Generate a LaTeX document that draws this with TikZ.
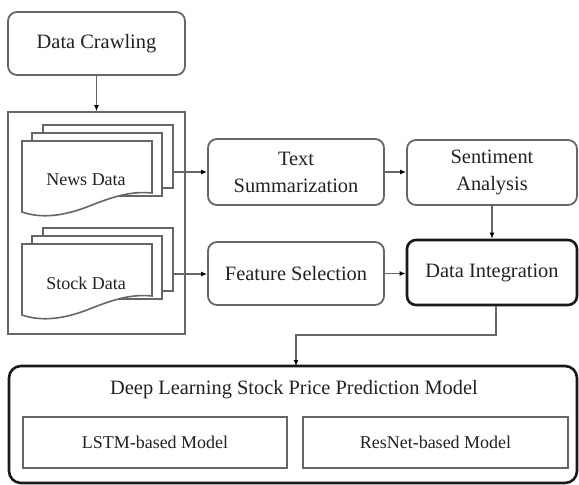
\documentclass[tikz,border=0pt]{standalone}
\usepackage{fontspec}
\setmainfont{Liberation Serif}
\usetikzlibrary{arrows.meta}
\definecolor{linegray}{HTML}{666666}
\definecolor{inkgray}{HTML}{222222}
\tikzset{
  box/.style={draw=linegray, line width=1.8pt, rounded corners=9pt, fill=white,
    align=center, text=inkgray, font=\fontsize{20.4}{27}\selectfont, inner sep=0pt},
  boldbox/.style={box, draw=black!90, line width=2.6pt},
  plainbox/.style={draw=linegray, line width=1.6pt, fill=white, align=center,
    text=inkgray, font=\fontsize{18}{22}\selectfont, inner sep=0pt},
  page/.style={draw=linegray, line width=1.6pt, fill=white},
  conn/.style={draw=linegray, line width=1.5pt,
    -{Latex[length=6pt,width=5pt,color=black]}},
  doclabel/.style={text=inkgray, font=\fontsize{18}{22}\selectfont},
}
\begin{document}
\begin{tikzpicture}[x=1pt,y=-1pt]
\useasboundingbox (0,0) rectangle (579,485);

% top box
\node[box, minimum width=177pt, minimum height=63pt] (crawl) at (96.5,43.5) {Data Crawling};

% frame holding the two document stacks
\node[draw=linegray, line width=1.6pt, minimum width=177pt, minimum height=222pt,
  inner sep=0pt] (sources) at (96.5,223) {};

% news document stack
\draw[page] (43,125) rectangle (173,188);
\draw[page] (32,133) rectangle (162,196);
\draw[page] (22,141) -- (152,141) -- (152,193)
  .. controls (132,191) and (115,196) .. (92,205)
  .. controls (70,214) and (45,220) .. (22,212) -- cycle;
\node[doclabel] (news) at (86,180) {News Data};
\coordinate (newsout) at (173,172);

% stock document stack
\draw[page] (43,228) rectangle (173,291);
\draw[page] (32,236) rectangle (162,299);
\draw[page] (22,244) -- (152,244) -- (152,296)
  .. controls (132,294) and (115,299) .. (92,308)
  .. controls (70,317) and (45,323) .. (22,315) -- cycle;
\node[doclabel] (stock) at (86,283) {Stock Data};
\coordinate (stockout) at (173,274);

% processing boxes
\node[box, minimum width=176pt, minimum height=66pt] (summ) at (296,172) {Text\\Summarization};
\node[box, minimum width=176pt, minimum height=63pt] (feat) at (296,273.5) {Feature Selection};
\node[box, minimum width=170pt, minimum height=65pt] (senti) at (492,172.5) {Sentiment\\Analysis};
\node[boldbox, minimum width=170pt, minimum height=65pt] (integ) at (492,272.5) {Data Integration};

% model block
\node[boldbox, rounded corners=12pt, minimum width=568pt, minimum height=117pt] (model) at (293,424.5) {};
\node[text=inkgray, font=\fontsize{20.4}{24}\selectfont] (title) at (294,390) {Deep Learning Stock Price Prediction Model};
\node[plainbox, minimum width=264pt, minimum height=51pt] (lstm) at (155,442.5) {LSTM-based Model};
\node[plainbox, minimum width=265pt, minimum height=51pt] (resnet) at (435.5,442.5) {ResNet-based Model};

% connectors
\draw[conn] (crawl.south) -- (sources.north);
\draw[conn] (newsout) -- (newsout -| summ.west);
\draw[conn] (stockout) -- (stockout -| feat.west);
\draw[conn] (summ.east) -- (summ.east -| senti.west);
\draw[conn] (feat.east) -- (feat.east -| integ.west);
\draw[conn] (senti.south) -- (integ.north);
\coordinate (bend) at (496,335);
\draw[conn] (integ.south -| bend) -- (bend) -- (296,335) -- (296,366);
\end{tikzpicture}
\end{document}
